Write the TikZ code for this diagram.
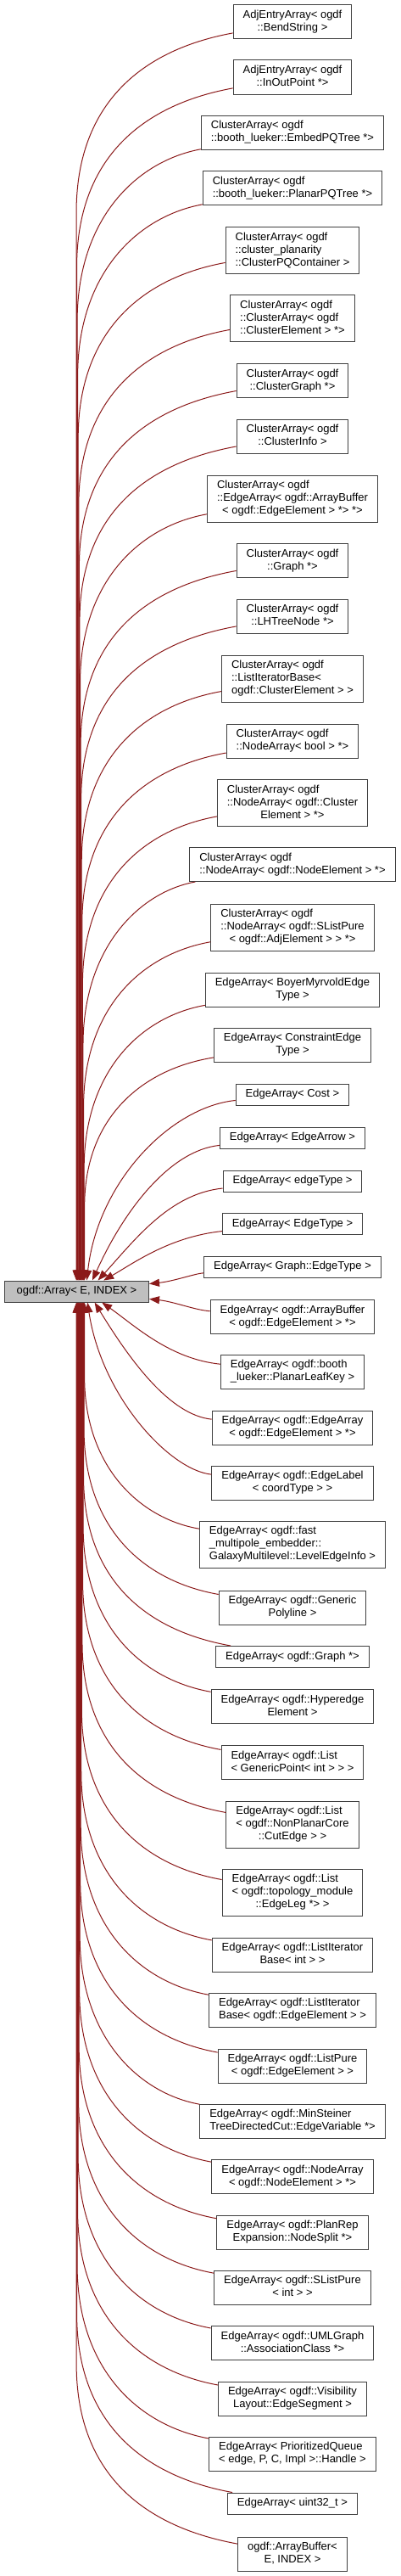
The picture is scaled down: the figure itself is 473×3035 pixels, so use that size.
\documentclass[tikz,border=0pt]{standalone}
\usepackage{fontspec}
\setmainfont{Liberation Sans}
\usetikzlibrary{arrows.meta}
\definecolor{edgered}{HTML}{8B1A1A}
\definecolor{boxline}{HTML}{404040}
\definecolor{basefill}{HTML}{BFBFBF}
\newcommand{\lbl}[1]{\begin{tabular}{@{}l@{}}#1\end{tabular}}

\begin{document}
\begin{tikzpicture}[x=1pt,y=1pt,font=\fontsize{13}{15}\selectfont,
  cls/.style={draw=boxline,line width=1pt,fill=white,inner xsep=11.5pt,inner ysep=5pt},
  basecls/.style={cls,fill=basefill,minimum width=170pt},
  inh/.style={edgered,line width=1pt,-{Triangle[length=12pt,width=9pt]}}]
  \useasboundingbox (0,0) rectangle (473,-3035);

  % Base class, left.
  \def\basey{1521.5}
  \node[basecls,anchor=west] (base) at (5,-\basey) {\lbl{ogdf::Array< E, INDEX >}};

  % One derived class and its edge back to the base.
  \newcommand{\derived}[3]{%
    \node[cls] (#1) at (345,-#2) {\lbl{#3}};
    \pgfmathsetmacro{\dy}{abs(#2-\basey)}
    \pgfmathsetmacro{\sg}{(#2<\basey) ? 1 : -1}
    \ifdim\sg pt>0pt \def\side{north}\else\def\side{south}\fi
    \ifdim\dy pt<60pt
      % level with the base: into its right side
      \pgfmathsetmacro{\ya}{-#2-(\sg)*8}
      \pgfmathsetmacro{\yb}{-\basey+(\sg)*12}
      \draw[inh] (#1) .. controls (230,\ya) and (205,\yb) .. (base);
    \else\ifdim\dy pt<250pt
      % close: one arc onto the top or bottom side
      \pgfmathsetmacro{\xt}{100+(250-\dy)*0.13}
      \pgfmathsetmacro{\ang}{90-(250-\dy)*0.35}
      \pgfmathsetmacro{\ya}{-#2-(\sg)*min(15,0.2*\dy)}
      \pgfmathsetmacro{\xb}{\xt+0.5*\dy*cos(\ang)}
      \pgfmathsetmacro{\yb}{-\basey+(\sg)*(12.5+0.5*\dy*sin(\ang))}
      \draw[inh] (#1) .. controls (200,\ya) and (\xb,\yb) .. (\xt,0 |- base.\side);
    \else
      % far: arc into a vertical lane over the base
      \pgfmathsetmacro{\xl}{90+10*(1500-\dy)/1250}
      \pgfmathsetmacro{\ww}{250-\xl}
      \pgfmathsetmacro{\hh}{min(1.4*\ww,\dy-100)}
      \pgfmathsetmacro{\xa}{250-0.55*\ww}
      \pgfmathsetmacro{\ya}{-#2-(\sg)*0.15*\hh}
      \pgfmathsetmacro{\yb}{-#2-(\sg)*0.45*\hh}
      \pgfmathsetmacro{\yp}{-#2-(\sg)*\hh}
      \draw[inh] (#1) .. controls (\xa,\ya) and (\xl,\yb) .. (\xl,\yp)
        -- (\xl,0 |- base.\side);
    \fi\fi
  }

  % AdjEntryArray and ClusterArray instances.
  \derived{adjBendString}{26}{AdjEntryArray< ogdf\\\hfil::BendString >}
  \derived{adjInOutPoint}{91}{AdjEntryArray< ogdf\\\hfil::InOutPoint *>}
  \derived{clEmbedPQ}{156}{ClusterArray< ogdf\\\hfil::booth\_lueker::EmbedPQTree *>}
  \derived{clPlanarPQ}{221.5}{ClusterArray< ogdf\\\hfil::booth\_lueker::PlanarPQTree *>}
  \derived{clPQContainer}{295}{ClusterArray< ogdf\\::cluster\_planarity\\\hfil::ClusterPQContainer >}
  \derived{clClusterArray}{375}{ClusterArray< ogdf\\::ClusterArray< ogdf\\\hfil::ClusterElement > *>}
  \derived{clClusterGraph}{448.5}{ClusterArray< ogdf\\\hfil::ClusterGraph *>}
  \derived{clClusterInfo}{514}{ClusterArray< ogdf\\\hfil::ClusterInfo >}
  \derived{clEdgeArray}{587.5}{ClusterArray< ogdf\\::EdgeArray< ogdf::ArrayBuffer\\\hfil< ogdf::EdgeElement > *> *>}
  \derived{clGraph}{660.5}{ClusterArray< ogdf\\\hfil::Graph *>}
  \derived{clLHTreeNode}{726}{ClusterArray< ogdf\\\hfil::LHTreeNode *>}
  \derived{clListIterBase}{799.5}{ClusterArray< ogdf\\::ListIteratorBase<\\\hfil ogdf::ClusterElement > >}
  \derived{clNodeBool}{873}{ClusterArray< ogdf\\\hfil::NodeArray< bool > *>}
  \derived{clNodeCluster}{946}{ClusterArray< ogdf\\::NodeArray< ogdf::Cluster\\\hfil Element > *>}
  \derived{clNodeNode}{1018.5}{ClusterArray< ogdf\\\hfil::NodeArray< ogdf::NodeElement > *>}
  \derived{clNodeSList}{1092.5}{ClusterArray< ogdf\\::NodeArray< ogdf::SListPure\\\hfil< ogdf::AdjElement > > *>}

  % EdgeArray instances.
  \derived{eaBoyer}{1166}{EdgeArray< BoyerMyrvoldEdge\\\hfil Type >}
  \derived{eaConstraint}{1231}{EdgeArray< ConstraintEdge\\\hfil Type >}
  \derived{eaCost}{1289.5}{EdgeArray< Cost >}
  \derived{eaEdgeArrow}{1340.5}{EdgeArray< EdgeArrow >}
  \derived{eaedgeType}{1391.5}{EdgeArray< edgeType >}
  \derived{eaEdgeType}{1442}{EdgeArray< EdgeType >}
  \derived{eaGraphEdgeType}{1492.5}{EdgeArray< Graph::EdgeType >}
  \derived{eaArrayBuffer}{1551.5}{EdgeArray< ogdf::ArrayBuffer\\\hfil< ogdf::EdgeElement > *>}
  \derived{eaPlanarLeafKey}{1616}{EdgeArray< ogdf::booth\\\hfil\_lueker::PlanarLeafKey >}
  \derived{eaEdgeArray}{1682}{EdgeArray< ogdf::EdgeArray\\\hfil< ogdf::EdgeElement > *>}
  \derived{eaEdgeLabel}{1747}{EdgeArray< ogdf::EdgeLabel\\\hfil< coordType > >}
  \derived{eaLevelEdgeInfo}{1819.5}{EdgeArray< ogdf::fast\\\_multipole\_embedder::\\\hfil GalaxyMultilevel::LevelEdgeInfo >}
  \derived{eaPolyline}{1894}{EdgeArray< ogdf::Generic\\\hfil Polyline >}
  \derived{eaGraphPtr}{1952}{EdgeArray< ogdf::Graph *>}
  \derived{eaHyperedge}{2010.5}{EdgeArray< ogdf::Hyperedge\\\hfil Element >}
  \derived{eaListPoint}{2076.5}{EdgeArray< ogdf::List\\\hfil< GenericPoint< int > > >}
  \derived{eaListCutEdge}{2149.5}{EdgeArray< ogdf::List\\< ogdf::NonPlanarCore\\\hfil::CutEdge > >}
  \derived{eaListEdgeLeg}{2229.5}{EdgeArray< ogdf::List\\< ogdf::topology\_module\\\hfil::EdgeLeg *> >}
  \derived{eaIterInt}{2303}{EdgeArray< ogdf::ListIterator\\\hfil Base< int > >}
  \derived{eaIterEdge}{2368}{EdgeArray< ogdf::ListIterator\\\hfil Base< ogdf::EdgeElement > >}
  \derived{eaListPure}{2434}{EdgeArray< ogdf::ListPure\\\hfil< ogdf::EdgeElement > >}
  \derived{eaSteiner}{2499}{EdgeArray< ogdf::MinSteiner\\\hfil TreeDirectedCut::EdgeVariable *>}
  \derived{eaNodeArray}{2564.5}{EdgeArray< ogdf::NodeArray\\\hfil< ogdf::NodeElement > *>}
  \derived{eaNodeSplit}{2630}{EdgeArray< ogdf::PlanRep\\\hfil Expansion::NodeSplit *>}
  \derived{eaSListInt}{2695}{EdgeArray< ogdf::SListPure\\\hfil< int > >}
  \derived{eaAssocClass}{2760.5}{EdgeArray< ogdf::UMLGraph\\\hfil::AssociationClass *>}
  \derived{eaEdgeSegment}{2826}{EdgeArray< ogdf::Visibility\\\hfil Layout::EdgeSegment >}
  \derived{eaHandle}{2891}{EdgeArray< PrioritizedQueue\\\hfil< edge, P, C, Impl >::Handle >}
  \derived{eaUint}{2949.5}{EdgeArray< uint32\_t >}
  \derived{arrayBuffer}{3009}{ogdf::ArrayBuffer<\\\hfil E, INDEX >}
\end{tikzpicture}
\end{document}
